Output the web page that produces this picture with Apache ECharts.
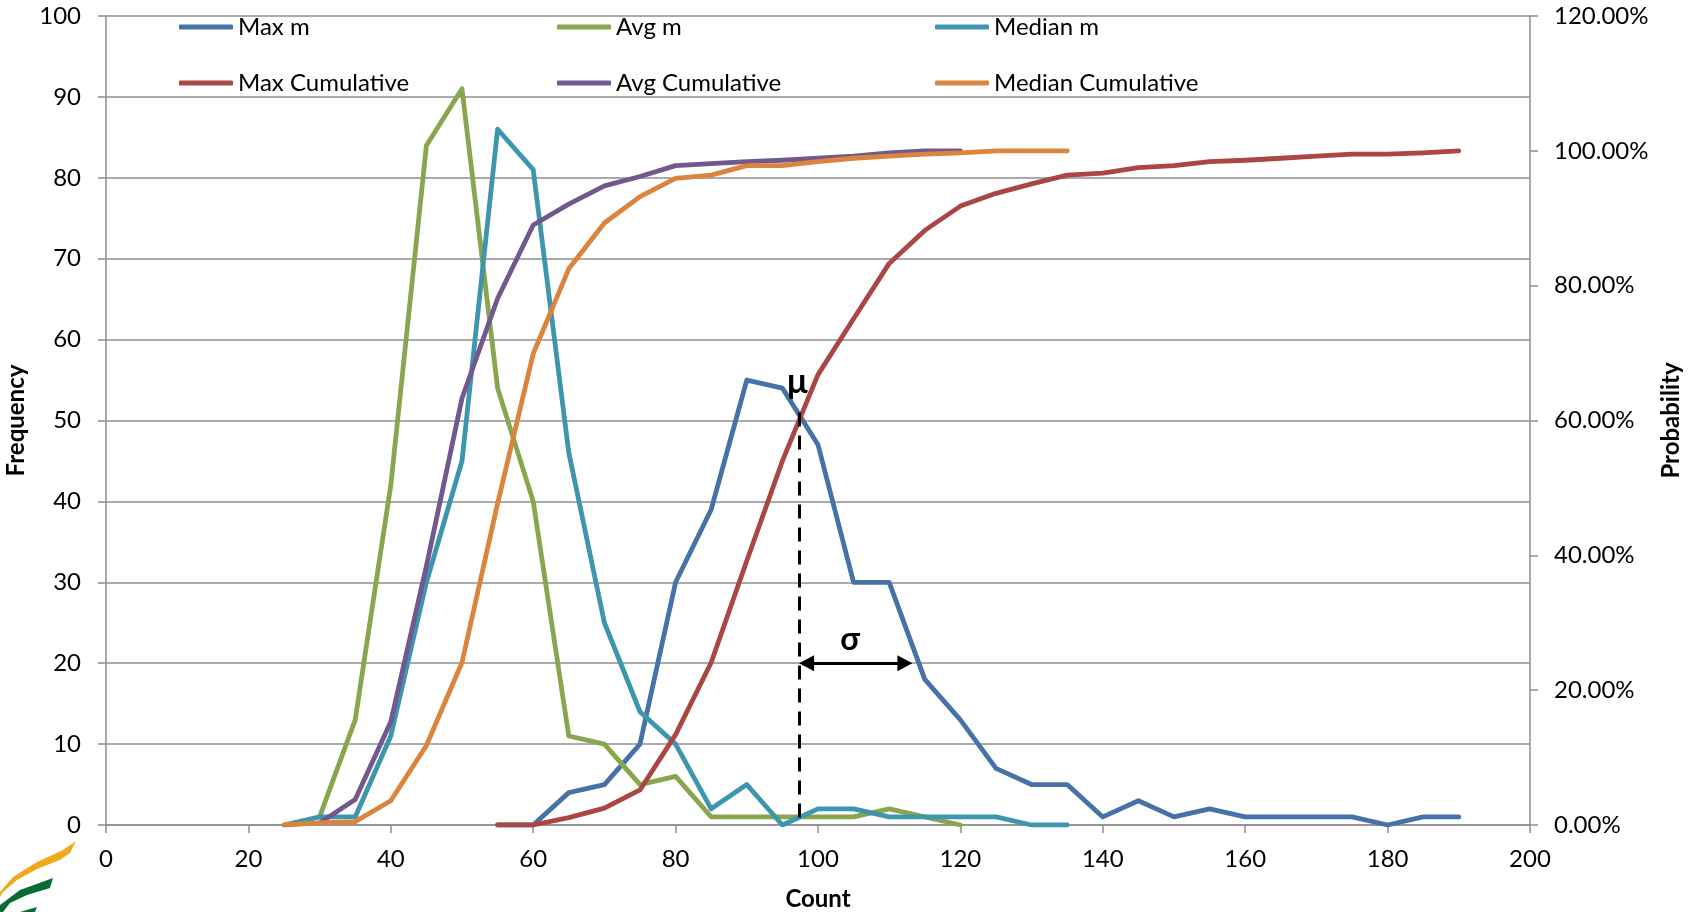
<!DOCTYPE html>
<html>
<head>
<meta charset="utf-8">
<script src="https://cdn.jsdelivr.net/npm/echarts@6/dist/echarts.min.js"></script>
<style>
    html, body { margin: 0; padding: 0; background: #fff; }
    #main { width: 1696px; height: 912px; }
</style>
</head>
<body>
<div id="main"></div>
<script>
// x positions of the bins
var counts = [25, 30, 35, 40, 45, 50, 55, 60, 65, 70, 75, 80, 85, 90, 95, 100, 105, 110, 115, 120,
    125, 130, 135, 140, 145, 150, 155, 160, 165, 170, 175, 180, 185, 190];

// frequencies (left axis)
var maxM = [null, null, null, null, null, null, 0, 0, 4, 5, 10, 30, 39, 55, 54, 47, 30, 30, 18, 13,
    7, 5, 5, 1, 3, 1, 2, 1, 1, 1, 1, 0, 1, 1];
var avgM = [null, 1, 13, 42, 84, 91, 54, 40, 11, 10, 5, 6, 1, 1, 1, 1, 1, 2, 1, 0];
var medianM = [0, 1, 1, 11, 30, 45, 86, 81, 46, 25, 14, 10, 2, 5, 0, 2, 2, 1, 1, 1, 1, 0, 0];

// cumulative probability (right axis)
var maxCum = [null, null, null, null, null, null, 0, 0, 0.011, 0.025, 0.052, 0.134, 0.241, 0.392, 0.540,
    0.668, 0.751, 0.833, 0.882, 0.918, 0.937, 0.951, 0.964, 0.967, 0.975, 0.978, 0.984, 0.986, 0.989,
    0.992, 0.995, 0.995, 0.997, 1.0];
var avgCum = [null, 0.003, 0.038, 0.153, 0.384, 0.633, 0.781, 0.890, 0.921, 0.948, 0.962, 0.978, 0.981,
    0.984, 0.986, 0.989, 0.992, 0.997, 1.0, 1.0];
var medianCum = [0, 0.003, 0.005, 0.036, 0.118, 0.241, 0.477, 0.699, 0.825, 0.893, 0.932, 0.959, 0.964,
    0.978, 0.978, 0.984, 0.989, 0.992, 0.995, 0.997, 1.0, 1.0, 1.0];

// annotation positions (data units)
var muX = 97.3;
var muTop = 51;
var sigmaY = 20;
var sigmaEnd = 113.3;

var FONT = 'Lato, "Noto Sans", sans-serif';
var GRID_COLOR = '#8f8f8f';

function pairs(vals) {
    var out = [];
    for (var i = 0; i < vals.length; i++) {
        if (vals[i] !== null) out.push([counts[i], vals[i]]);
    }
    return out;
}

function lineSeries(name, color, vals, yIdx) {
    return {
        type: 'line',
        name: name,
        yAxisIndex: yIdx,
        data: pairs(vals),
        showSymbol: false,
        symbol: 'none',
        lineStyle: { color: color, width: 4.8, cap: 'round', join: 'round' },
        itemStyle: { color: color },
        z: 2
    };
}

function legendCol(left, names) {
    return {
        orient: 'vertical',
        left: left,
        top: 15,
        padding: 0,
        itemGap: 32,
        itemWidth: 54,
        itemHeight: 5,
        icon: 'roundRect',
        textStyle: { fontFamily: FONT, fontSize: 24, lineHeight: 24, color: '#000', padding: [0, 0, 0, 0] },
        data: names
    };
}

var chart = echarts.init(document.getElementById('main'));

var series = [
    lineSeries('Max m', '#4572A7', maxM, 0),
    lineSeries('Avg m', '#89A54E', avgM, 0),
    lineSeries('Median m', '#3D96AE', medianM, 0),
    lineSeries('Max Cumulative', '#AA4643', maxCum, 1),
    lineSeries('Avg Cumulative', '#71588F', avgCum, 1),
    lineSeries('Median Cumulative', '#DB843D', medianCum, 1)
];

// mu / sigma markers
series.push({
    type: 'line',
    name: 'annot',
    yAxisIndex: 0,
    data: [],
    silent: true,
    z: 5,
    markLine: {
        silent: true,
        animation: false,
        label: { show: false },
        data: [
            [
                { coord: [muX, muTop], symbol: 'none', lineStyle: { color: '#000', width: 3, type: [14, 9] } },
                { coord: [muX, 0], symbol: 'none' }
            ],
            [
                { coord: [muX + 1.1, sigmaY], symbol: 'triangle', symbolSize: [16, 15], lineStyle: { color: '#000', width: 3, type: 'solid' } },
                { coord: [sigmaEnd - 1.1, sigmaY], symbol: 'triangle', symbolSize: [16, 15] }
            ]
        ]
    },
    markPoint: {
        silent: true,
        animation: false,
        symbol: 'circle',
        symbolSize: 1,
        itemStyle: { color: 'rgba(0,0,0,0)' },
        data: [
            { coord: [97.1, 54.8], label: { show: true, position: 'inside', formatter: 'μ', color: '#000', fontFamily: FONT, fontWeight: 'bold', fontSize: 34 } },
            { coord: [104.5, 22.9], label: { show: true, position: 'inside', formatter: 'σ', color: '#000', fontFamily: FONT, fontWeight: 'bold', fontSize: 32 } }
        ]
    }
});

var option = {
    animation: false,
    backgroundColor: '#fff',
    textStyle: { fontFamily: FONT },
    grid: { left: 106, right: 166, top: 16, bottom: 87, outerBoundsMode: 'none', containLabel: false },
    legend: [
        legendCol(179, ['Max m', 'Max Cumulative']),
        legendCol(557, ['Avg m', 'Avg Cumulative']),
        legendCol(935, ['Median m', 'Median Cumulative'])
    ],
    xAxis: {
        type: 'value',
        min: 0,
        max: 200,
        interval: 20,
        name: 'Count',
        nameLocation: 'middle',
        nameGap: 62,
        nameTextStyle: { fontFamily: FONT, fontSize: 24, fontWeight: 'bold', color: '#000' },
        axisLine: { show: true, lineStyle: { color: GRID_COLOR, width: 1.5 } },
        axisTick: { show: true, length: 8, lineStyle: { color: GRID_COLOR, width: 1.5 } },
        axisLabel: { fontFamily: FONT, fontSize: 24, color: '#000', margin: 22 },
        splitLine: { show: false }
    },
    yAxis: [
        {
            type: 'value',
            min: 0,
            max: 100,
            interval: 10,
            name: 'Frequency',
            nameLocation: 'middle',
            nameGap: 73,
            nameTextStyle: { fontFamily: FONT, fontSize: 24, fontWeight: 'bold', color: '#000' },
            axisLine: { show: true, lineStyle: { color: GRID_COLOR, width: 1.5 } },
            axisTick: { show: true, length: 8, lineStyle: { color: GRID_COLOR, width: 1.5 } },
            axisLabel: { fontFamily: FONT, fontSize: 24, color: '#000', margin: 25 },
            splitLine: { show: true, lineStyle: { color: GRID_COLOR, width: 1.5 } }
        },
        {
            type: 'value',
            position: 'right',
            min: 0,
            max: 1.2,
            interval: 0.2,
            name: 'Probability',
            nameLocation: 'middle',
            nameGap: 120,
            nameTextStyle: { fontFamily: FONT, fontSize: 24, fontWeight: 'bold', color: '#000' },
            axisLine: { show: true, lineStyle: { color: GRID_COLOR, width: 1.5 } },
            axisTick: { show: true, length: 8, lineStyle: { color: GRID_COLOR, width: 1.5 } },
            axisLabel: {
                fontFamily: FONT, fontSize: 24, color: '#000', margin: 24,
                formatter: function (v) { return (v * 100).toFixed(2) + '%'; }
            },
            splitLine: { show: false }
        }
    ],
    // logo fragment in the bottom-left corner
    graphic: [
        {
            type: 'polygon',
            shape: { points: [[0, 892], [13, 877], [37, 862], [63, 850], [76, 841], [70, 853], [60, 860], [37, 869], [17, 880], [3, 892], [0, 897]] },
            style: { fill: '#F2A81D' }
        },
        {
            type: 'polygon',
            shape: { points: [[0, 905], [20, 890], [53, 878], [50, 888], [27, 895], [10, 903], [3, 912], [0, 912]] },
            style: { fill: '#0B6B35' }
        },
        {
            type: 'polygon',
            shape: { points: [[20, 912], [37, 907], [35, 912]] },
            style: { fill: '#0B6B35' }
        }
    ],
    series: series
};

chart.setOption(option);
</script>
</body>
</html>
